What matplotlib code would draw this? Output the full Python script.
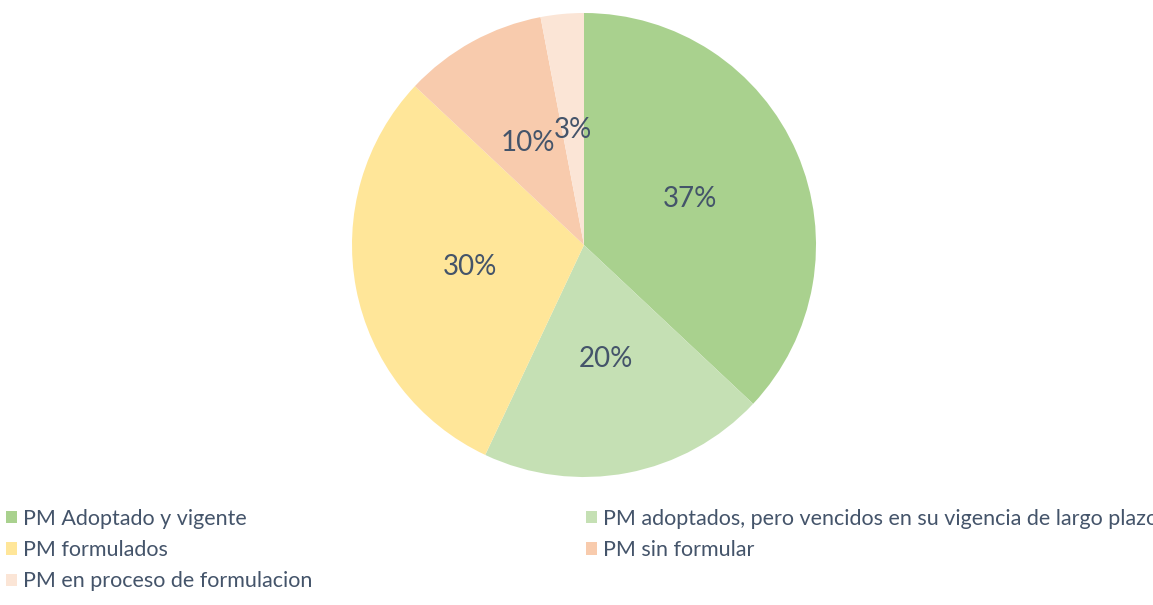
import matplotlib
matplotlib.use("Agg")
import matplotlib.pyplot as plt
from matplotlib.patches import Patch

categories = ["PM Adoptado y vigente",
              "PM adoptados, pero vencidos en su vigencia de largo plazo",
              "PM formulados",
              "PM sin formular",
              "PM en proceso de formulacion"]
values = [37, 20, 30, 10, 3]
colors = ["#A9D18E", "#C5E0B4", "#FFE699", "#F8CBAD", "#FBE5D6"]

plt.rcParams['font.family'] = ['Lato', 'DejaVu Sans']

W, H = 1153, 605
fig = plt.figure(figsize=(W/100, H/100), dpi=100)
cx, cy, r = 584, 245, 232
ax = fig.add_axes([(cx-r)/W, (H-cy-r)/H, 2*r/W, 2*r/H])
wedges, texts, autotexts = ax.pie(values, colors=colors, startangle=90, counterclock=False,
                                  autopct=lambda p: f"{p:.0f}%", pctdistance=0.5,
                                  wedgeprops=dict(linewidth=0),
                                  textprops=dict(color="#44546A", fontsize=20))
ax.set_xlim(-1, 1); ax.set_ylim(-1, 1)
ax.set_aspect('equal')
ax.axis('off')

order = [0, 2, 4, 1, 3]
handles = [Patch(facecolor=colors[i], edgecolor='none') for i in order]
labels = [categories[i] for i in order]
leg = fig.legend(handles, labels, loc='upper left', bbox_to_anchor=(6/W, 1-509/H),
                 ncol=2, frameon=False, fontsize=15.5, handlelength=0.5, handleheight=0.5,
                 handletextpad=0.3, labelspacing=0.52, columnspacing=12.7,
                 labelcolor="#44546A", borderpad=0, borderaxespad=0)
fig.savefig("out.png", dpi=100)
